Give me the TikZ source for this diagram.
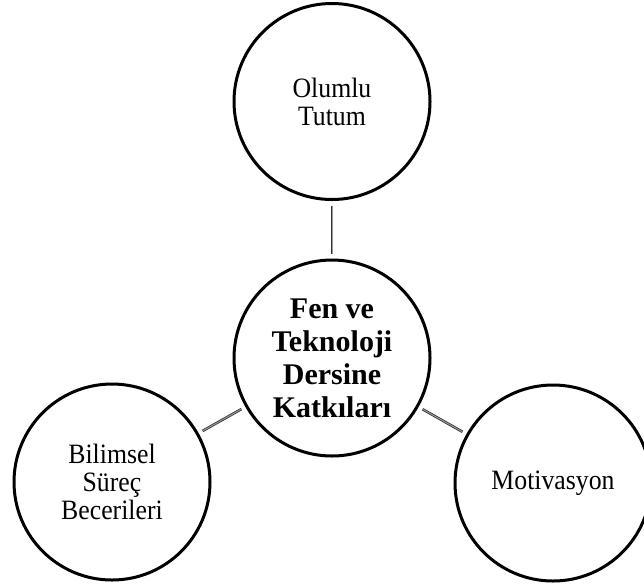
\documentclass[tikz,border=0pt]{standalone}
\usepackage{fontspec}
\setmainfont{Liberation Serif}
\newfontfamily\bubblefont{Liberation Serif}[FakeStretch=0.92]
\begin{document}
\begin{tikzpicture}[x=1pt,y=-1pt,
  bubble/.style={circle, draw=black, line width=3pt, minimum size=196pt, inner sep=0pt, outer sep=0pt, align=center, font=\bubblefont\fontsize{28}{28}\selectfont},
  hub/.style={bubble, font=\rmfamily\fontsize{30}{33}\selectfont\bfseries},
  link/.style={draw=black!80, line width=0.8pt, double=black!40, double distance=1pt, shorten <=6pt, shorten >=6pt}]
\useasboundingbox (0,0) rectangle (644,587);
\clip (0,0) rectangle (644,587);
\node[hub] (c) at (332,358) {Fen ve\\Teknoloji\\Dersine\\Katkıları};
\node[bubble] (t) at (332,101.5) {Olumlu\\Tutum};
\node[bubble] (l) at (112,482) {Bilimsel\\Süreç\\Becerileri};
\node[bubble] (r) at (553,483) {Motivasyon};
\draw[link] (t) -- (c);
\draw[link] (l) -- (c);
\draw[link] (c) -- (r);
\end{tikzpicture}
\end{document}
